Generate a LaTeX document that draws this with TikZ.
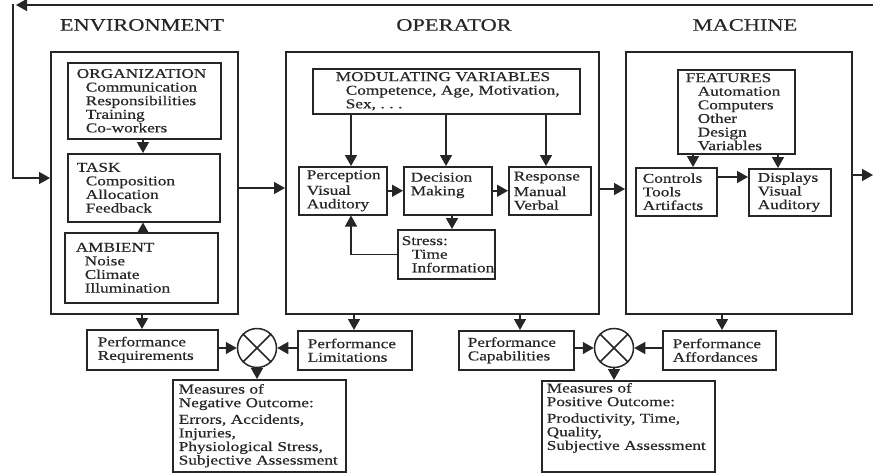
\documentclass[tikz,border=0pt]{standalone}
\usepackage{fontspec}
\setmainfont{Liberation Serif}[FakeStretch=1.28,FakeBold=0.4]
\usetikzlibrary{arrows.meta}
\definecolor{ink}{HTML}{262626}
\newcommand{\fs}{\fontsize{13.5pt}{13.6pt}\selectfont}
\newcommand{\ind}{\hspace*{9pt}}
\hyphenpenalty=10000
\exhyphenpenalty=10000
\begin{document}
\begin{tikzpicture}[x=1pt,y=-1pt,
 bx/.style={draw=ink, line width=1.5pt, anchor=north west, align=left, inner ysep=1pt, font=\fs, text=ink, fill=white},
 cont/.style={draw=ink, line width=1.5pt, anchor=north west, inner sep=0pt},
 arr/.style={draw=ink, line width=1.5pt, -{Triangle[length=11pt,width=12pt]}},
 ln/.style={draw=ink, line width=1.5pt},
 ttl/.style={font=\fontsize{17.5pt}{20pt}\selectfont, text=ink},
 otm/.style={draw=ink, line width=1.5pt, circle, minimum size=39pt, inner sep=0pt}]
\useasboundingbox (0,0) rectangle (873,472);

% titles
\node[ttl] (t1) at (142,25) {ENVIRONMENT};
\node[ttl] (t2) at (454,25) {OPERATOR};
\node[ttl] (t3) at (745,25) {MACHINE};

% containers
\node[cont, minimum width=187pt, minimum height=262pt] (env) at (50,51) {};
\node[cont, minimum width=313pt, minimum height=262pt] (op) at (285,51) {};
\node[cont, minimum width=226pt, minimum height=262pt] (mach) at (625,51) {};

% environment
\node[bx, minimum width=153pt, minimum height=76pt, inner xsep=9pt, text width=135pt] (org) at (67,62)
 {ORGANIZATION\\\ind Communication\\\ind Responsibilities\\\ind Training\\\ind Co-workers};
\node[bx, minimum width=152pt, minimum height=68pt, inner xsep=9pt, text width=134pt] (task) at (67,153)
 {TASK\\\ind Composition\\\ind Allocation\\\ind Feedback};
\node[bx, minimum width=153pt, minimum height=70pt, inner xsep=11pt, text width=131pt] (amb) at (64,232)
 {AMBIENT\\\ind Noise\\\ind Climate\\\ind Illumination};

% operator
\node[bx, minimum width=267pt, minimum height=45pt, inner xsep=23pt, text width=221pt] (mod) at (312,68)
 {MODULATING~VARIABLES\\\hspace*{10pt}Competence,~Age,~Motivation,\\\hspace*{10pt}Sex,~.~.~.};
\node[bx, minimum width=88pt, minimum height=48pt, inner xsep=8pt, text width=72pt] (perc) at (298,166)
 {Perception\\[2pt]Visual\\Auditory};
\node[bx, minimum width=88pt, minimum height=48pt, inner xsep=7pt, text width=74pt] (dec) at (403,166)
 {Decision\\Making\\\mbox{}};
\node[bx, minimum width=82pt, minimum height=48pt, inner xsep=5pt, text width=72pt] (resp) at (508,166)
 {Response\\[2pt]Manual\\Verbal};
\node[bx, minimum width=97pt, minimum height=49pt, inner xsep=4pt, text width=89pt] (stress) at (397,229)
 {Stress:\\\hspace*{10pt}Time\\\hspace*{10pt}Information};

% machine
\node[bx, minimum width=117pt, minimum height=84pt, inner xsep=8pt, text width=101pt] (feat) at (677,69)
 {FEATURES\\\hspace*{12pt}Automation\\\hspace*{12pt}Computers\\\hspace*{12pt}Other\\\hspace*{12pt}Design\\\hspace*{12pt}Variables};
\node[bx, minimum width=81pt, minimum height=48pt, inner xsep=7pt, text width=67pt] (ctrl) at (635,167)
 {Controls\\Tools\\Artifacts};
\node[bx, minimum width=82pt, minimum height=47pt, inner xsep=9pt, text width=64pt] (disp) at (748,168)
 {Displays\\Visual\\Auditory};

% bottom row
\node[bx, minimum width=131pt, minimum height=40pt, inner xsep=11pt, text width=109pt] (preq) at (86,329)
 {Performance\\Requirements};
\node[otm] (c1) at (257,348) {};
\node[bx, minimum width=114pt, minimum height=39pt, inner xsep=10pt, text width=94pt] (plim) at (297,330)
 {Performance\\Limitations};
\node[bx, minimum width=173pt, minimum height=92pt, inner xsep=6pt, text width=161pt] (neg) at (172,379)
 {Measures~of\\Negative~Outcome:\\[3pt]Errors,~Accidents,\\Injuries,\\Physiological~Stress,\\Subjective~Assessment};
\node[bx, minimum width=115pt, minimum height=39pt, inner xsep=9pt, text width=97pt] (pcap) at (458,330)
 {Performance\\Capabilities};
\node[otm] (c2) at (614,348) {};
\node[bx, minimum width=113pt, minimum height=39pt, inner xsep=10pt, text width=93pt] (paff) at (662,330)
 {Performance\\Affordances};
\node[bx, minimum width=173pt, minimum height=91pt, inner xsep=5pt, text width=163pt] (pos) at (541,380)
 {Measures~of\\Positive~Outcome:\\[3pt]Productivity,~Time,\\Quality,\\Subjective~Assessment\\[6pt]\mbox{}};

% crosses in circles
\draw[ln] (c1.north west) -- (c1.south east) (c1.north east) -- (c1.south west);
\draw[ln] (c2.north west) -- (c2.south east) (c2.north east) -- (c2.south west);

% helper coordinates
\coordinate (tr) at (873,5);
\coordinate (tl) at (16,5);
\coordinate (cl) at (13,4.25);
\coordinate (rin) at (13,178);
\coordinate (mo) at (873,175);
\coordinate (y188) at (0,188);
\coordinate (y189) at (0,189);
\coordinate (y177) at (0,177);
\coordinate (xa) at (351,0);
\coordinate (xb) at (446,0);
\coordinate (xc) at (546,0);
\coordinate (xd) at (452,0);
\coordinate (xe) at (693,0);
\coordinate (xf) at (778,0);
\coordinate (xg) at (142,0);
\coordinate (xh) at (354,0);
\coordinate (xi) at (520,0);
\coordinate (xj) at (722,0);
\coordinate (xk) at (143,0);

% feedback loop
\draw[arr] (tr) -- (tl);
\draw[arr] (cl) -- (rin) -- (rin -| env.west);
\draw[arr] (mo -| mach.east) -- (mo);

% between containers
\draw[arr] (y188 -| env.east) -- (y188 -| op.west);
\draw[arr] (y189 -| op.east) -- (y189 -| mach.west);

% environment arrows
\draw[arr] (xk |- org.south) -- (xk |- task.north);
\draw[arr] (xk |- amb.north) -- (xk |- task.south);

% operator arrows
\draw[arr] (xa |- mod.south) -- (xa |- perc.north);
\draw[arr] (xb |- mod.south) -- (xb |- dec.north);
\draw[arr] (xc |- mod.south) -- (xc |- resp.north);
\draw[arr] (perc.east) -- (dec.west);
\draw[arr] (dec.east) -- (resp.west);
\draw[arr] (xd |- dec.south) -- (xd |- stress.north);
\draw[arr] (stress.west) -| (xa |- perc.south);

% machine arrows
\draw[arr] (xe |- feat.south) -- (xe |- ctrl.north);
\draw[arr] (xf |- feat.south) -- (xf |- disp.north);
\draw[arr] (y177 -| ctrl.east) -- (y177 -| disp.west);

% to bottom row
\draw[arr] (xg |- env.south) -- (xg |- preq.north);
\draw[arr] (xh |- op.south) -- (xh |- plim.north);
\draw[arr] (xi |- op.south) -- (xi |- pcap.north);
\draw[arr] (xj |- mach.south) -- (xj |- paff.north);

\draw[arr] (c1.west -| preq.east) -- (c1.west);
\draw[arr] (c1.east -| plim.west) -- (c1.east);
\draw[arr] (c1.south) -- (c1.south |- neg.north);
\draw[arr] (c2.west -| pcap.east) -- (c2.west);
\draw[arr] (c2.east -| paff.west) -- (c2.east);
\draw[arr] (c2.south) -- (c2.south |- pos.north);
\end{tikzpicture}
\end{document}
